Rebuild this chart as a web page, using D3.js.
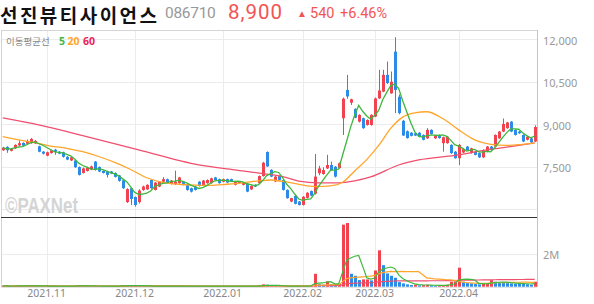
<!DOCTYPE html>
<html>
<head>
<meta charset="utf-8">
<script src="https://cdn.jsdelivr.net/npm/d3@7"></script>
<style>
  body { margin: 0; background: #fff; }
  svg { display: block; }
</style>
</head>
<body>
<div id="chart"></div>
<script>
const W = 594, H = 304;
const pad = { left: 1, right: 537, top: 30, split: 217, bottom: 287 };

// trading days per month
const months = ["2021-10", "2021-11", "2021-12", "2022-01", "2022-02", "2022-03", "2022-04"];
const monthDays = [
  [15,18,19,20,21,22,25,26,27,28,29],
  [1,2,3,4,5,8,9,10,11,12,15,16,17,18,19,22,23,24,25,26,29,30],
  [1,2,3,6,7,8,9,10,13,14,15,16,17,20,21,22,23,24,27,28,29,30],
  [3,4,5,6,7,10,11,12,13,14,17,18,19,20,21,24,25,26,27,28],
  [3,4,7,8,9,10,11,14,15,16,17,18,21,22,23,24,25,28],
  [2,3,4,7,8,10,11,14,15,16,17,18,21,22,23,24,25,28,29,30,31],
  [1,4,5,6,7,8,11,12,13,14,15,18,19,20,21,22,25,26,27,28]
];
const monthLabels = ["2021.11", "2021.12", "2022.01", "2022.02", "2022.03", "2022.04"];

const opens = [
  8080,8200,8060,8150,8250,8340,8310,8330,8320,8220,
  8030,7890,7980,8100,8030,8010,7850,7720,7720,7490,
  7280,7350,7400,7680,7490,7350,7330,7330,7280,7190,
  7020,6250,6740,6430,6250,6680,6700,7030,6680,6800,
  6970,7060,6890,6880,6920,6970,6860,6740,6800,6970,
  6840,6920,6920,7120,7060,6970,7060,7060,6860,6920,
  6860,6900,6700,6860,6920,7170,8020,7390,6980,7170,
  7030,6680,6270,6470,6270,6150,6400,6640,6550,7270,
  7240,7440,7560,7500,7450,9210,10210,9760,9540,9090,
  9210,8970,8970,9270,9910,10150,10740,10090,11560,9970,
  9120,8750,8700,8680,8700,8620,8500,8800,8500,8620,
  8330,8330,8270,8030,7800,8000,8210,7980,8030,7980,
  7830,8030,8210,8210,8500,8740,8860,9090,8800,8740,
  8620,8450,8500,8390
];
const highs = [
  8200,8220,8150,8290,8430,8360,8460,8510,8440,8240,
  8050,8030,8100,8130,8050,8030,7870,7860,7740,7510,
  7470,7500,7540,7700,7510,7370,7350,7350,7300,7210,
  7040,6740,6760,6450,6700,6830,6880,7060,6960,6990,
  7130,7080,7030,7360,7140,6990,6880,6760,6820,6990,
  7030,7050,7110,7140,7080,7080,7080,7080,7000,6980,
  6960,6920,6840,6880,7190,7670,8040,7410,7170,7190,
  7050,6700,6400,6490,6290,6460,6600,6660,7950,7530,
  7480,7920,7680,7520,7650,9940,10740,9900,9560,9350,
  9230,9170,9350,9940,10920,10920,11210,10860,12070,10050,
  9150,8780,8720,8700,8720,8640,8860,8820,8620,8640,
  8560,8580,8290,8050,8300,8130,8230,8170,8050,8000,
  8110,8230,8230,8640,8760,9200,9080,9110,8820,8760,
  8640,8580,8520,8960
];
const lows = [
  8060,7990,8040,8130,8230,8220,8300,8310,8300,8010,
  7930,7870,7960,7920,7940,7820,7730,7700,7460,7190,
  7260,7330,7380,7360,7310,7260,7120,7240,7120,6970,
  6720,6220,6150,6090,6200,6650,6680,6720,6660,6780,
  6950,6920,6870,6860,6900,6840,6650,6590,6660,6800,
  6820,6900,6900,7020,6900,6950,6920,6960,6840,6900,
  6840,6600,6680,6780,6900,7150,7490,7130,6960,7010,
  6660,6370,6250,6170,6130,6130,6380,6460,6520,7200,
  7220,7420,7360,7120,7430,8620,9900,9680,9210,9060,
  8840,8950,8950,9250,9890,10130,10420,10070,9390,9350,
  8590,8490,8570,8580,8540,8430,8480,8630,8480,8490,
  8030,8310,7950,7780,7560,7980,8070,7960,7900,7810,
  7810,8010,8070,8190,8480,8720,8840,8720,8600,8660,
  8370,8430,8340,8370
];
const closes = [
  8170,8080,8130,8270,8330,8240,8410,8480,8410,8030,
  7960,8010,8080,8030,7960,7850,7750,7830,7480,7210,
  7440,7470,7510,7390,7330,7280,7210,7260,7140,7000,
  6740,6710,6360,6150,6660,6800,6860,6740,6940,6970,
  7060,6940,7010,6970,7120,6860,6680,6620,6680,6820,
  7010,7030,7090,7030,6920,7060,6940,6980,6990,6960,
  6940,6620,6820,6800,7170,7640,7510,7150,7150,7030,
  6680,6390,6390,6190,6150,6440,6580,6480,7150,7440,
  7380,7560,7380,7150,7620,9900,9980,9880,9230,9330,
  8860,9150,9330,9910,10190,10740,10450,10500,10210,9390,
  8600,8510,8590,8600,8560,8450,8800,8650,8600,8510,
  8540,8560,7980,7800,8270,8120,8090,8150,7920,7830,
  8090,8210,8090,8620,8740,9010,9060,8740,8620,8680,
  8390,8560,8360,8900
];
// volume, thousand shares
const volumes = [
  50,40,30,50,60,40,50,70,50,40,
  30,40,30,40,30,40,30,30,50,80,
  50,40,30,50,40,30,40,30,40,50,
  80,70,60,70,60,40,30,40,30,30,
  40,30,30,60,40,30,40,30,30,30,
  40,30,30,30,30,40,30,30,30,30,
  30,40,30,30,70,140,120,60,40,30,
  40,50,30,40,40,50,40,40,780,150,
  120,320,150,120,150,3750,3850,780,660,400,
  440,440,380,980,2200,1300,800,660,540,280,
  200,140,100,120,80,100,120,80,60,60,
  100,120,300,320,1150,300,220,200,160,140,
  180,200,400,300,260,240,220,200,190,180,
  170,150,120,300
];
// moving averages: [candle index, price]
const ma20Pts = [[0,8560],[4,8450],[8,8350],[12,8230],[16,8150],[20,8030],[24,7860],[28,7650],
  [32,7400],[36,7110],[40,6950],[44,6880],[48,6850],[52,6840],[56,6880],[60,6930],[64,7000],
  [67,7030],[70,6980],[74,6880],[78,6800],[82,6820],[85,6950],[88,7350],[91,7750],[94,8250],
  [97,8850],[100,9250],[103,9400],[106,9440],[110,9200],[114,8800],[118,8450],[122,8290],
  [126,8250],[130,8290],[133,8330]];
const ma60Pts = [[0,9220],[9,8975],[20,8600],[34,8093],[49,7563],[58,7390],[66,7240],[70,7150],
  [74,6990],[79,6930],[84,6930],[88,7000],[92,7140],[99,7560],[104,7740],[113,7900],[121,8093],
  [129,8250],[133,8340]];

const priceTicks = [12000, 10500, 9000, 7500];
const priceGrid = [12000, 10500, 9000, 7500, 6000];
const volTicks = [2000];

const upColor = "#f0434f", downColor = "#2b8be6";
const c5 = "#3db83d", c20 = "#ffa52b", c60 = "#f0506e";
const numFont = "'Noto Sans', Roboto, sans-serif";
const headFont = "Roboto, 'Noto Sans', sans-serif";
const krFont = "'Noto Sans CJK KR', sans-serif";

const dates = [];
months.forEach((m, k) => monthDays[k].forEach(d => dates.push(m + "-" + String(d).padStart(2, "0"))));
const data = dates.map((d, i) => ({
  date: d, open: opens[i], high: highs[i], low: lows[i], close: closes[i], vol: volumes[i], i: i
}));

function movingAvg(arr, n) {
  return arr.map((_, i) => d3.mean(arr.slice(Math.max(0, i - n + 1), i + 1)));
}
const ma5 = movingAvg(closes, 5);
const vma5 = movingAvg(volumes, 5), vma20 = movingAvg(volumes, 20), vma60 = movingAvg(volumes, 60);

const svg = d3.select("#chart").append("svg").attr("width", W).attr("height", H);

const x = d3.scaleBand().domain(dates).range([0.7, 536.7]).padding(0);
const cx = d => x(d) + x.bandwidth() / 2;
const yP = d3.scaleLinear().domain([6000, 12000]).range([209.2, 39.2]);
const yV = d3.scaleLinear().domain([0, 2000]).range([286.7, 253.6]);

// clip paths
const defs = svg.append("defs");
defs.append("clipPath").attr("id", "clipP").append("rect")
  .attr("x", pad.left).attr("y", pad.top).attr("width", pad.right - pad.left).attr("height", pad.split - pad.top);
defs.append("clipPath").attr("id", "clipV").append("rect")
  .attr("x", pad.left).attr("y", pad.split).attr("width", pad.right - pad.left).attr("height", pad.bottom - pad.split);

// month starts
const monthStarts = months.slice(1).map(m => dates.find(d => d.startsWith(m)));

// grid
const grid = svg.append("g").attr("stroke", "#ececec").attr("stroke-width", 1);
grid.selectAll(".vg").data(monthStarts).join("line")
  .attr("x1", d => Math.round(cx(d)) + 0.5).attr("x2", d => Math.round(cx(d)) + 0.5)
  .attr("y1", pad.top).attr("y2", pad.bottom);
grid.selectAll(".hg").data(priceGrid).join("line")
  .attr("x1", pad.left).attr("x2", pad.right)
  .attr("y1", d => Math.round(yP(d)) + 0.5).attr("y2", d => Math.round(yP(d)) + 0.5);
grid.selectAll(".vgv").data(volTicks).join("line")
  .attr("x1", pad.left).attr("x2", pad.right)
  .attr("y1", d => Math.round(yV(d)) + 0.5).attr("y2", d => Math.round(yV(d)) + 0.5);

// watermark
svg.append("text").attr("x", 5).attr("y", 213)
  .attr("font-family", "'Liberation Sans', Arial, sans-serif").attr("font-weight", "bold")
  .attr("font-size", 22).attr("fill", "#d4d4d4")
  .attr("textLength", 73).attr("lengthAdjust", "spacingAndGlyphs")
  .text("©PAXNet");

// price candles
const pricePane = svg.append("g").attr("clip-path", "url(#clipP)");
const candles = pricePane.append("g").selectAll("g").data(data).join("g");
candles.append("line")
  .attr("x1", d => Math.round(cx(d.date)) + 0.5).attr("x2", d => Math.round(cx(d.date)) + 0.5)
  .attr("y1", d => yP(d.high)).attr("y2", d => yP(d.low))
  .attr("stroke", d => d.close >= d.open ? upColor : downColor).attr("stroke-width", 1);
candles.append("rect")
  .attr("x", d => Math.round(cx(d.date)) - 1)
  .attr("width", 3)
  .attr("y", d => yP(Math.max(d.open, d.close)))
  .attr("height", d => Math.max(1, Math.abs(yP(d.open) - yP(d.close))))
  .attr("fill", d => d.close >= d.open ? upColor : downColor);

// moving average lines
const line5 = d3.line().x((d, i) => cx(dates[i])).y(d => yP(d));
const lineSmooth = d3.line().x(d => cx(dates[d[0]])).y(d => yP(d[1])).curve(d3.curveMonotoneX);
pricePane.append("path").datum(ma60Pts).attr("d", lineSmooth)
  .attr("fill", "none").attr("stroke", c60).attr("stroke-width", 1.3);
pricePane.append("path").datum(ma20Pts).attr("d", lineSmooth)
  .attr("fill", "none").attr("stroke", c20).attr("stroke-width", 1.3);
pricePane.append("path").datum(ma5).attr("d", line5)
  .attr("fill", "none").attr("stroke", c5).attr("stroke-width", 1.3);

// volume: red when volume rose from the previous day
const volPane = svg.append("g").attr("clip-path", "url(#clipV)");
volPane.append("g").selectAll("rect").data(data).join("rect")
  .attr("x", d => Math.round(cx(d.date)) - 1)
  .attr("width", 3)
  .attr("y", d => yV(d.vol))
  .attr("height", d => yV(0) - yV(d.vol))
  .attr("fill", d => (d.i === 0 || d.vol >= volumes[d.i - 1]) ? upColor : downColor);
const lineV = d3.line().x((d, i) => cx(dates[i])).y(d => yV(d));
[[vma60, c60], [vma20, c20], [vma5, c5]].forEach(([s, c]) => {
  volPane.append("path").datum(s).attr("d", lineV)
    .attr("fill", "none").attr("stroke", c).attr("stroke-width", 1.2);
});

// frame
const frame = svg.append("g");
frame.append("line").attr("x1", pad.left).attr("x2", pad.right).attr("y1", pad.top + 0.5).attr("y2", pad.top + 0.5)
  .attr("stroke", "#d4d4d4");
frame.append("line").attr("x1", pad.left + 0.5).attr("x2", pad.left + 0.5).attr("y1", pad.top).attr("y2", pad.bottom)
  .attr("stroke", "#d4d4d4");
frame.append("line").attr("x1", pad.right + 0.5).attr("x2", pad.right + 0.5).attr("y1", pad.top).attr("y2", pad.bottom)
  .attr("stroke", "#c4c4c4");
frame.append("line").attr("x1", pad.left).attr("x2", pad.right).attr("y1", pad.split + 0.5).attr("y2", pad.split + 0.5)
  .attr("stroke", "#333").attr("stroke-width", 1.2);
frame.append("line").attr("x1", pad.left).attr("x2", pad.right).attr("y1", pad.bottom + 0.5).attr("y2", pad.bottom + 0.5)
  .attr("stroke", "#e2e2e2");

// axes
function styleAxis(g) {
  g.select(".domain").remove();
  g.selectAll(".tick line").remove();
  g.selectAll("text").attr("fill", "#999").attr("font-family", numFont);
}
svg.append("g").attr("transform", `translate(${pad.right},1.5)`)
  .call(d3.axisRight(yP).tickValues(priceTicks).tickFormat(d3.format(",")).tickSize(0).tickPadding(6))
  .attr("font-size", 11).call(styleAxis);
svg.append("g").attr("transform", `translate(${pad.right},1.5)`)
  .call(d3.axisRight(yV).tickValues(volTicks).tickFormat(d => d / 1000 + "M").tickSize(0).tickPadding(6))
  .attr("font-size", 11).call(styleAxis);
svg.append("g").attr("transform", `translate(0,${pad.bottom})`)
  .call(d3.axisBottom(x).tickValues(monthStarts).tickFormat((d, i) => monthLabels[i]).tickSize(0).tickPadding(3))
  .attr("font-size", 10.5).call(styleAxis)
  .selectAll("text").attr("fill", "#888");

// header
svg.append("text").attr("x", 0).attr("y", 22.5)
  .attr("font-family", krFont).attr("font-size", 19).attr("font-weight", "bold").attr("fill", "#111")
  .attr("textLength", 157).attr("lengthAdjust", "spacing")
  .text("선진뷰티사이언스");
svg.append("text").attr("x", 165).attr("y", 18)
  .attr("font-family", headFont).attr("font-size", 15.5).attr("fill", "#999").attr("letter-spacing", -0.3)
  .text("086710");
svg.append("text").attr("x", 228).attr("y", 19)
  .attr("font-family", headFont).attr("font-size", 20.5).attr("fill", "#f25454").attr("letter-spacing", 1)
  .text("8,900");
svg.append("text").attr("x", 297).attr("y", 17)
  .attr("font-family", headFont).attr("font-size", 10).attr("fill", "#f25454")
  .text("▲");
svg.append("text").attr("x", 310).attr("y", 18)
  .attr("font-family", headFont).attr("font-size", 14.5).attr("fill", "#f25454")
  .text("540");
svg.append("text").attr("x", 340).attr("y", 18)
  .attr("font-family", headFont).attr("font-size", 14.5).attr("fill", "#f25454")
  .text("+6.46%");

// legend
svg.append("text").attr("x", 6).attr("y", 45)
  .attr("font-family", krFont).attr("font-size", 9.5).attr("fill", "#888")
  .text("이동평균선");
[["5", 59, c5], ["20", 67.5, c20], ["60", 83, "#e91e5a"]].forEach(([t, lx, c]) => {
  svg.append("text").attr("x", lx).attr("y", 45)
    .attr("font-family", numFont).attr("font-size", 10.5).attr("font-weight", "bold").attr("fill", c)
    .text(t);
});
</script>
</body>
</html>
